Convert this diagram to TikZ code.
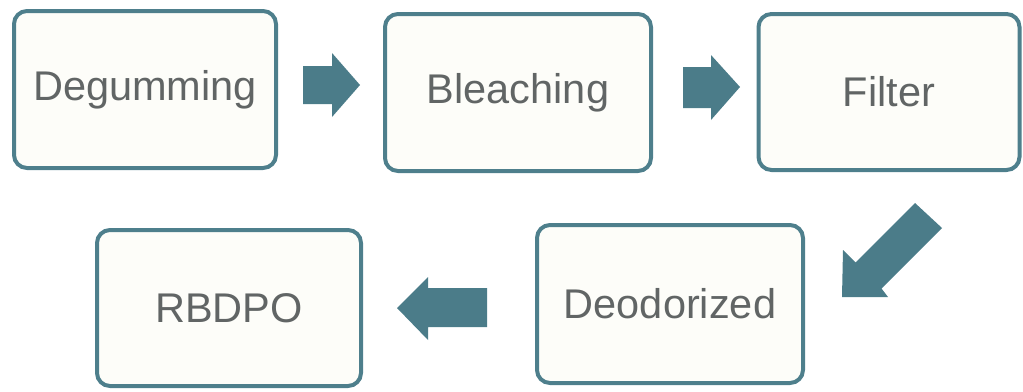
\documentclass[tikz,border=0pt]{standalone}
\usepackage{fontspec}
\setmainfont{Liberation Sans}
\definecolor{edge}{HTML}{4E7F8C}
\definecolor{arrowfill}{HTML}{4B7C89}
\definecolor{boxfill}{HTML}{FDFDF9}
\definecolor{txt}{HTML}{616565}
\tikzset{
  stepbox/.style={draw=edge, line width=4pt, rounded corners=13pt, fill=boxfill,
    inner sep=0pt, text=txt, font=\fontsize{41.5}{48}\selectfont},
  blockarrow/.style={fill=arrowfill, draw=none}
}
\begin{document}
\begin{tikzpicture}[x=1pt, y=-1pt]
\useasboundingbox (0,0) rectangle (1023,391);
\node[stepbox, minimum width=262pt, minimum height=157pt] (deg) at (145,89.5) {Degumming};
\node[stepbox, minimum width=266pt, minimum height=157pt] (ble) at (518,92.5) {Bleaching};
\node[stepbox, minimum width=261pt, minimum height=156pt] (fil) at (889,92) {Filter};
\node[stepbox, minimum width=266pt, minimum height=158pt] (deo) at (670,304) {Deodorized};
\node[stepbox, minimum width=264pt, minimum height=156pt] (rbd) at (229,308) {RBDPO};
% block arrows
\fill[blockarrow] (303,66) -- (332,66) -- (332,53) -- (360,85) -- (332,117) -- (332,104) -- (303,104) -- cycle;
\fill[blockarrow] (683,67) -- (711,67) -- (711,55) -- (740,87) -- (711,120) -- (711,108) -- (683,108) -- cycle;
\fill[blockarrow] (915,203) -- (942,228) -- (881.5,288.5) -- (888,297) -- (842,297) -- (843,250) -- (855.5,262.5) -- cycle;
\fill[blockarrow] (487,288) -- (428,288) -- (428,277) -- (397,308) -- (428,340) -- (428,327) -- (487,327) -- cycle;
\end{tikzpicture}
\end{document}
